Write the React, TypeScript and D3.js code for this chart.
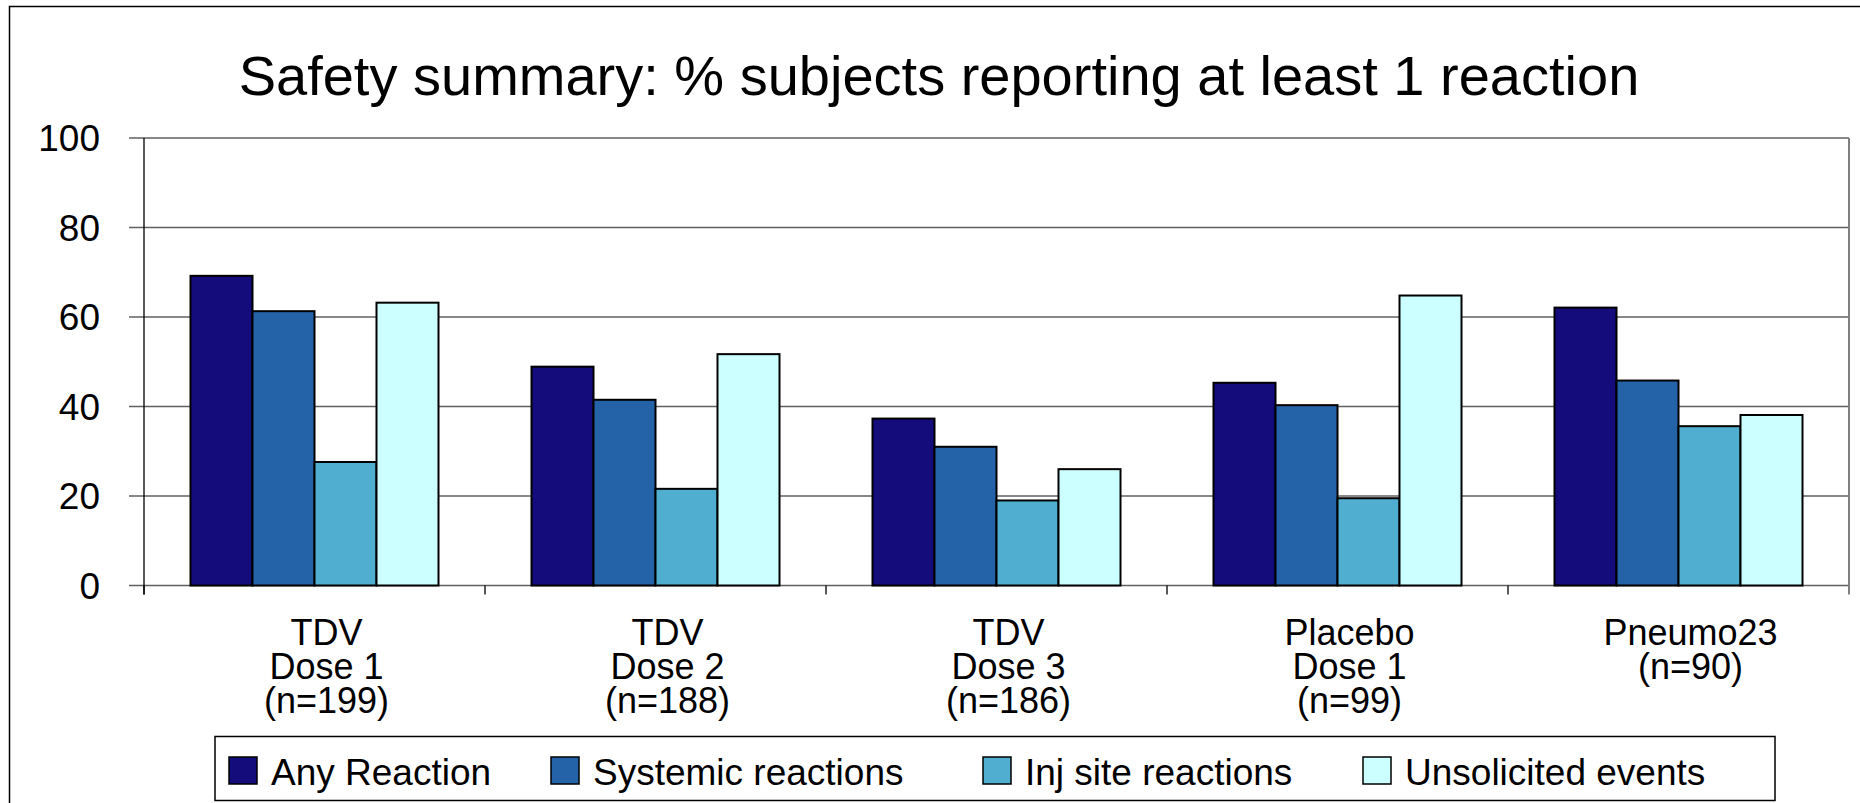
import * as d3 from 'd3'

const CATEGORIES = ['TDV Dose 1', 'TDV Dose 2', 'TDV Dose 3', 'Placebo Dose 1', 'Pneumo23']
const CATEGORY_LINES = [
  ['TDV', 'Dose 1', '(n=199)'],
  ['TDV', 'Dose 2', '(n=188)'],
  ['TDV', 'Dose 3', '(n=186)'],
  ['Placebo', 'Dose 1', '(n=99)'],
  ['Pneumo23', '(n=90)'],
]
const SERIES = ['Any Reaction', 'Systemic reactions', 'Inj site reactions', 'Unsolicited events']
const ANY_REACTION = [69.2, 48.9, 37.3, 45.3, 62.1]
const SYSTEMIC = [61.3, 41.5, 31.0, 40.3, 45.8]
const INJ_SITE = [27.6, 21.6, 19.0, 19.5, 35.6]
const UNSOLICITED = [63.2, 51.7, 26.0, 64.8, 38.1]
const Y_TICKS = [0, 20, 40, 60, 80, 100]

const COLORS = ['#130c7a', '#2563a9', '#50afd0', '#ccffff']
const FONT = '"Liberation Sans", Arial, sans-serif'

const W = 1860
const H = 803
const left = 144
const right = 1849
const top = 138
const bottom = 585.5

export default function App() {
  const values = [ANY_REACTION, SYSTEMIC, INJ_SITE, UNSOLICITED]
  const x0 = d3.scaleBand().domain(CATEGORIES).range([left, right]).paddingInner(0).paddingOuter(0)
  const x1 = d3.scaleBand().domain(SERIES).range([0, x0.bandwidth()]).paddingInner(0).paddingOuter(0.75)
  const y = d3.scaleLinear().domain([0, 100]).range([bottom, top])

  // legend item positions along the box
  const legendX = [229, 551, 983, 1363]

  return (
    <div style={{ position: 'absolute', left: 0, top: 0 }}>
      <svg width={W} height={H} style={{ display: 'block', background: '#fff' }}>
        <rect x={9.5} y={6.5} width={W + 20} height={H + 20} fill="none" stroke="#000" strokeWidth={1.5} />

        <text x={939} y={95} textAnchor="middle" fontFamily={FONT} fontSize={56} fill="#000">
          Safety summary: % subjects reporting at least 1 reaction
        </text>

        {/* gridlines */}
        {Y_TICKS.map((t) => (
          <g key={t}>
            <line x1={left - 15} x2={right} y1={y(t)} y2={y(t)} stroke="#606060" strokeWidth={1.6} />
            <text x={100} y={y(t) + 13} textAnchor="end" fontFamily={FONT} fontSize={37} fill="#000">
              {t}
            </text>
          </g>
        ))}
        <line x1={right} x2={right} y1={top} y2={bottom + 9} stroke="#808080" strokeWidth={2} />
        <line x1={left} x2={left} y1={top} y2={bottom + 9} stroke="#000" strokeWidth={1.3} />

        {/* category ticks */}
        {CATEGORIES.map((c) => (
          <line key={c} x1={x0(c)!} x2={x0(c)!} y1={bottom} y2={bottom + 9} stroke="#000" strokeWidth={1.3} />
        ))}

        {/* bars */}
        {CATEGORIES.map((c, i) => (
          <g key={c} transform={`translate(${x0(c)},0)`}>
            {SERIES.map((s, j) => (
              <rect
                key={s}
                x={x1(s)!}
                y={y(values[j][i])}
                width={x1.bandwidth()}
                height={y(0) - y(values[j][i])}
                fill={COLORS[j]}
                stroke="#000"
                strokeWidth={2}
              />
            ))}
          </g>
        ))}

        {/* category labels */}
        {CATEGORIES.map((c, i) => (
          <text key={c} textAnchor="middle" fontFamily={FONT} fontSize={36} fill="#000">
            {CATEGORY_LINES[i].map((line, k) => (
              <tspan key={k} x={x0(c)! + x0.bandwidth() / 2 + 12} y={645 + k * 34}>
                {line}
              </tspan>
            ))}
          </text>
        ))}

        {/* legend */}
        <rect x={215} y={736.5} width={1560} height={64} fill="#fff" stroke="#000" strokeWidth={1.5} />
        {SERIES.map((s, j) => (
          <g key={s}>
            <rect x={legendX[j]} y={757} width={28} height={27} fill={COLORS[j]} stroke="#000" strokeWidth={1.5} />
            <text x={legendX[j] + 42} y={785} fontFamily={FONT} fontSize={37} fill="#000">
              {s}
            </text>
          </g>
        ))}
      </svg>
    </div>
  )
}
